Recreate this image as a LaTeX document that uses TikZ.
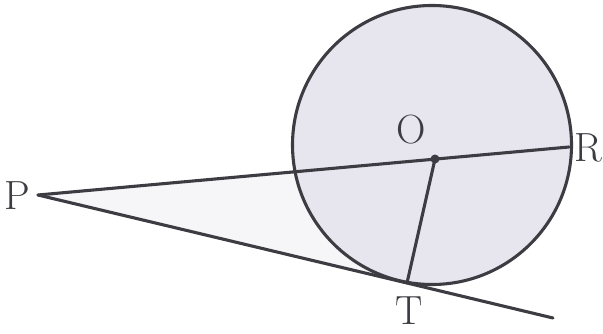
\documentclass[tikz,border=0pt]{standalone}
\usepackage{tikz}
\usetikzlibrary{positioning}

\definecolor{inkgray}{HTML}{3C3C42}
\definecolor{discfill}{HTML}{E7E6EE}
\definecolor{wedgefill}{HTML}{F6F6F8}

\begin{document}
\begin{tikzpicture}[
    x=0.025cm, y=-0.025cm,
    edge/.style={draw=inkgray, line width=2.2pt, line cap=round},
    lbl/.style={font=\fontsize{29}{29}\selectfont, text=inkgray, inner sep=0pt}
]
  \useasboundingbox (0,0) rectangle (603,334);

  % Points
  \coordinate (C) at (432,145);
  \coordinate (O) at (435,159);
  \coordinate (P) at (38,195);
  \coordinate (R) at (569,147);
  \coordinate (T) at (407,283);
  \coordinate (E) at (553,318);

  % Shaded wedge and disc
  \fill[wedgefill] (P) -- (R) -- (T) -- cycle;
  \draw[edge, fill=discfill] (C) circle (139.5);

  % Lines
  \draw[edge] (P) -- (R);
  \draw[edge] (P) -- (T) -- (E);
  \draw[edge] (O) -- (T);
  \fill[inkgray] (O) circle (4.5);

  % Labels
  \node[lbl] (lP) at (17,196) {P};
  \node[lbl] (lO) at (411,130) {O};
  \node[lbl] (lR) at (588,148) {R};
  \node[lbl] (lT) at (409,311) {T};
\end{tikzpicture}
\end{document}
